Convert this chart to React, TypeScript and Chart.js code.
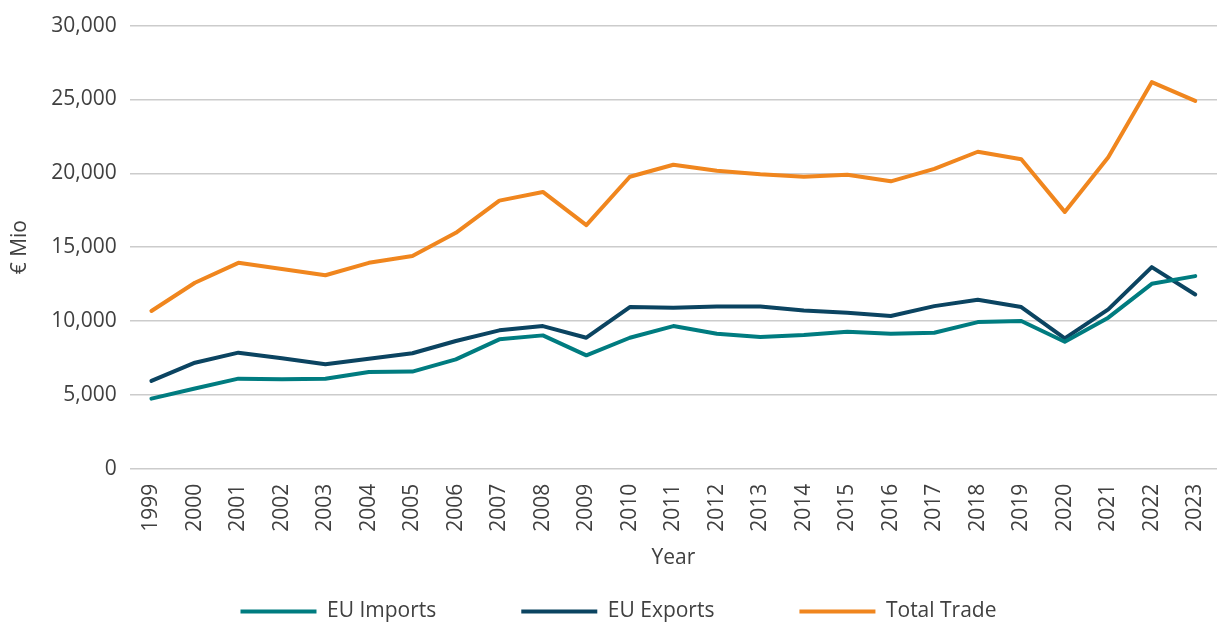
import React, { useEffect, useRef } from "react";
import { Chart, registerables } from "chart.js";

Chart.register(...registerables);

const years = [
  "1999", "2000", "2001", "2002", "2003", "2004", "2005", "2006", "2007", "2008",
  "2009", "2010", "2011", "2012", "2013", "2014", "2015", "2016", "2017", "2018",
  "2019", "2020", "2021", "2022", "2023",
];

const euImports = [
  4750, 5430, 6100, 6060, 6100, 6550, 6580, 7410, 8760, 9030,
  7680, 8870, 9660, 9140, 8920, 9050, 9280, 9140, 9210, 9930,
  10000, 8600, 10230, 12520, 13040,
];

const euExports = [
  5950, 7180, 7860, 7480, 7070, 7450, 7820, 8650, 9370, 9660,
  8870, 10950, 10900, 10990, 10990, 10720, 10560, 10340, 11010, 11440,
  10950, 8830, 10790, 13650, 11800,
];

const totalTrade = [
  10680, 12590, 13940, 13530, 13100, 13940, 14400, 15970, 18150, 18740,
  16490, 19770, 20580, 20180, 19930, 19770, 19900, 19460, 20300, 21460,
  20950, 17390, 21080, 26170, 24900,
];

const yTicks = [0, 5000, 10000, 15000, 20000, 25000, 30000];

const FONT = "'Open Sans', 'Noto Sans', sans-serif";
const TEXT = "#404040";

export default function App() {
  const ref = useRef<HTMLCanvasElement | null>(null);

  useEffect(() => {
    document.body.style.margin = "0";
    const canvas = ref.current;
    if (!canvas) return;
    const chart = new Chart(canvas, {
      type: "line",
      data: {
        labels: years,
        datasets: [
          {
            label: "EU Imports",
            data: euImports,
            borderColor: "#007C80",
            backgroundColor: "#007C80",
          },
          {
            label: "EU Exports",
            data: euExports,
            borderColor: "#0B4461",
            backgroundColor: "#0B4461",
          },
          {
            label: "Total Trade",
            data: totalTrade,
            borderColor: "#F0861E",
            backgroundColor: "#F0861E",
          },
        ].map((d) => ({
          ...d,
          borderWidth: 4,
          pointRadius: 0,
          pointHoverRadius: 0,
          tension: 0,
          borderCapStyle: "round" as const,
          borderJoinStyle: "round" as const,
          pointStyle: "line" as const,
        })),
      },
      options: {
        responsive: false,
        animation: false,
        devicePixelRatio: 1,
        layout: { padding: { top: 24, right: -20, left: 0, bottom: -10 } },
        plugins: {
          tooltip: { enabled: false },
          legend: {
            position: "bottom",
            title: {
              display: true,
              text: "",
              font: { size: 10, lineHeight: 1 },
              padding: { top: -95, bottom: 0 },
            },
            labels: {
              usePointStyle: true,
              pointStyle: "line",
              pointStyleWidth: 76,
              padding: 85,
              color: TEXT,
              font: { family: FONT, size: 21 },
            },
          },
        },
        scales: {
          x: {
            offset: true,
            grid: { display: false, drawTicks: true, tickLength: 20 },
            border: { display: false },
            ticks: {
              minRotation: 90,
              maxRotation: 90,
              padding: -5,
              color: TEXT,
              font: { family: FONT, size: 21 },
            },
            title: {
              display: true,
              text: "Year",
              color: TEXT,
              font: { family: FONT, size: 21 },
              padding: { top: 19, bottom: 30 },
            },
          },
          y: {
            min: 0,
            max: 30000,
            afterBuildTicks: (scale: any) => {
              scale.ticks = yTicks.map((v) => ({ value: v }));
            },
            grid: { color: "#cccccc", lineWidth: 1.5, drawTicks: false },
            border: { display: false },
            ticks: {
              padding: 13,
              color: TEXT,
              font: { family: FONT, size: 21 },
              callback: (v: any) => Number(v).toLocaleString("en-US"),
            },
            title: {
              display: true,
              text: "€ Mio",
              color: TEXT,
              font: { family: FONT, size: 21 },
              padding: { top: 7, bottom: 6 },
            },
          },
        },
      },
    });
    return () => chart.destroy();
  }, []);

  return (
    <div style={{ position: "fixed", left: 0, top: 0, width: 1217, height: 622 }}>
      <canvas ref={ref} width={1217} height={622} />
    </div>
  );
}
